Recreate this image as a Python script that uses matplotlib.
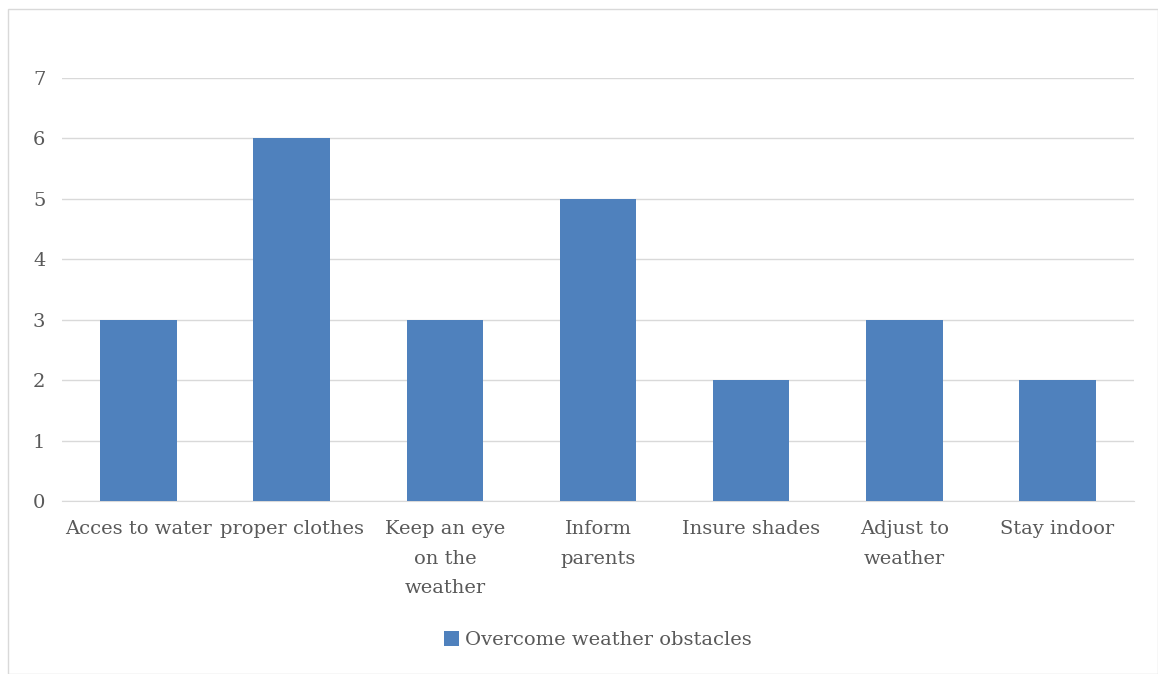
import matplotlib.pyplot as plt
from matplotlib.patches import Rectangle

categories = ["Acces to water", "proper clothes", "Keep an eye\non the\nweather",
              "Inform\nparents", "Insure shades", "Adjust to\nweather", "Stay indoor"]
values = [3, 6, 3, 5, 2, 3, 2]
series_name = "Overcome weather obstacles"

plt.rcParams['font.family'] = ['DejaVu Serif']
text_grey = '#595959'
bar_blue = '#4F81BD'
fs = 14

fig = plt.figure(figsize=(11.58, 6.74), dpi=100)
ax = fig.add_axes([62 / 1158, 1 - 501 / 674, (1134 - 62) / 1158, (501 - 78) / 674])

# chart border
fig.patches.append(Rectangle((8 / 1158, 0), 1 - 8 / 1158, 1 - 8 / 674 - 0.001,
                             transform=fig.transFigure, fill=False,
                             edgecolor='#D9D9D9', linewidth=1))

x = range(len(categories))
ax.bar(x, values, width=0.5, color=bar_blue, label=series_name, zorder=3)

ax.set_xlim(-0.5, len(categories) - 0.5)
ax.set_ylim(0, 7)
ax.set_yticks(range(0, 8))
ax.yaxis.grid(True, color='#D9D9D9', linewidth=1, zorder=0)
ax.set_axisbelow(True)

for side in ['top', 'right', 'left']:
    ax.spines[side].set_visible(False)
ax.spines['bottom'].set_color('#D9D9D9')

ax.set_xticks(list(x))
ax.set_xticklabels(categories, fontsize=fs, color=text_grey, linespacing=1.8)
ax.tick_params(axis='x', length=0, pad=14)
ax.tick_params(axis='y', length=0, pad=12, labelsize=fs, labelcolor=text_grey)

fig.legend(loc='center', bbox_to_anchor=(598 / 1158, 1 - 640 / 674), frameon=False,
           fontsize=fs, labelcolor=text_grey, handlelength=0.8, handleheight=0.8,
           handletextpad=0.3)

fig.savefig('out.png', dpi=100)
